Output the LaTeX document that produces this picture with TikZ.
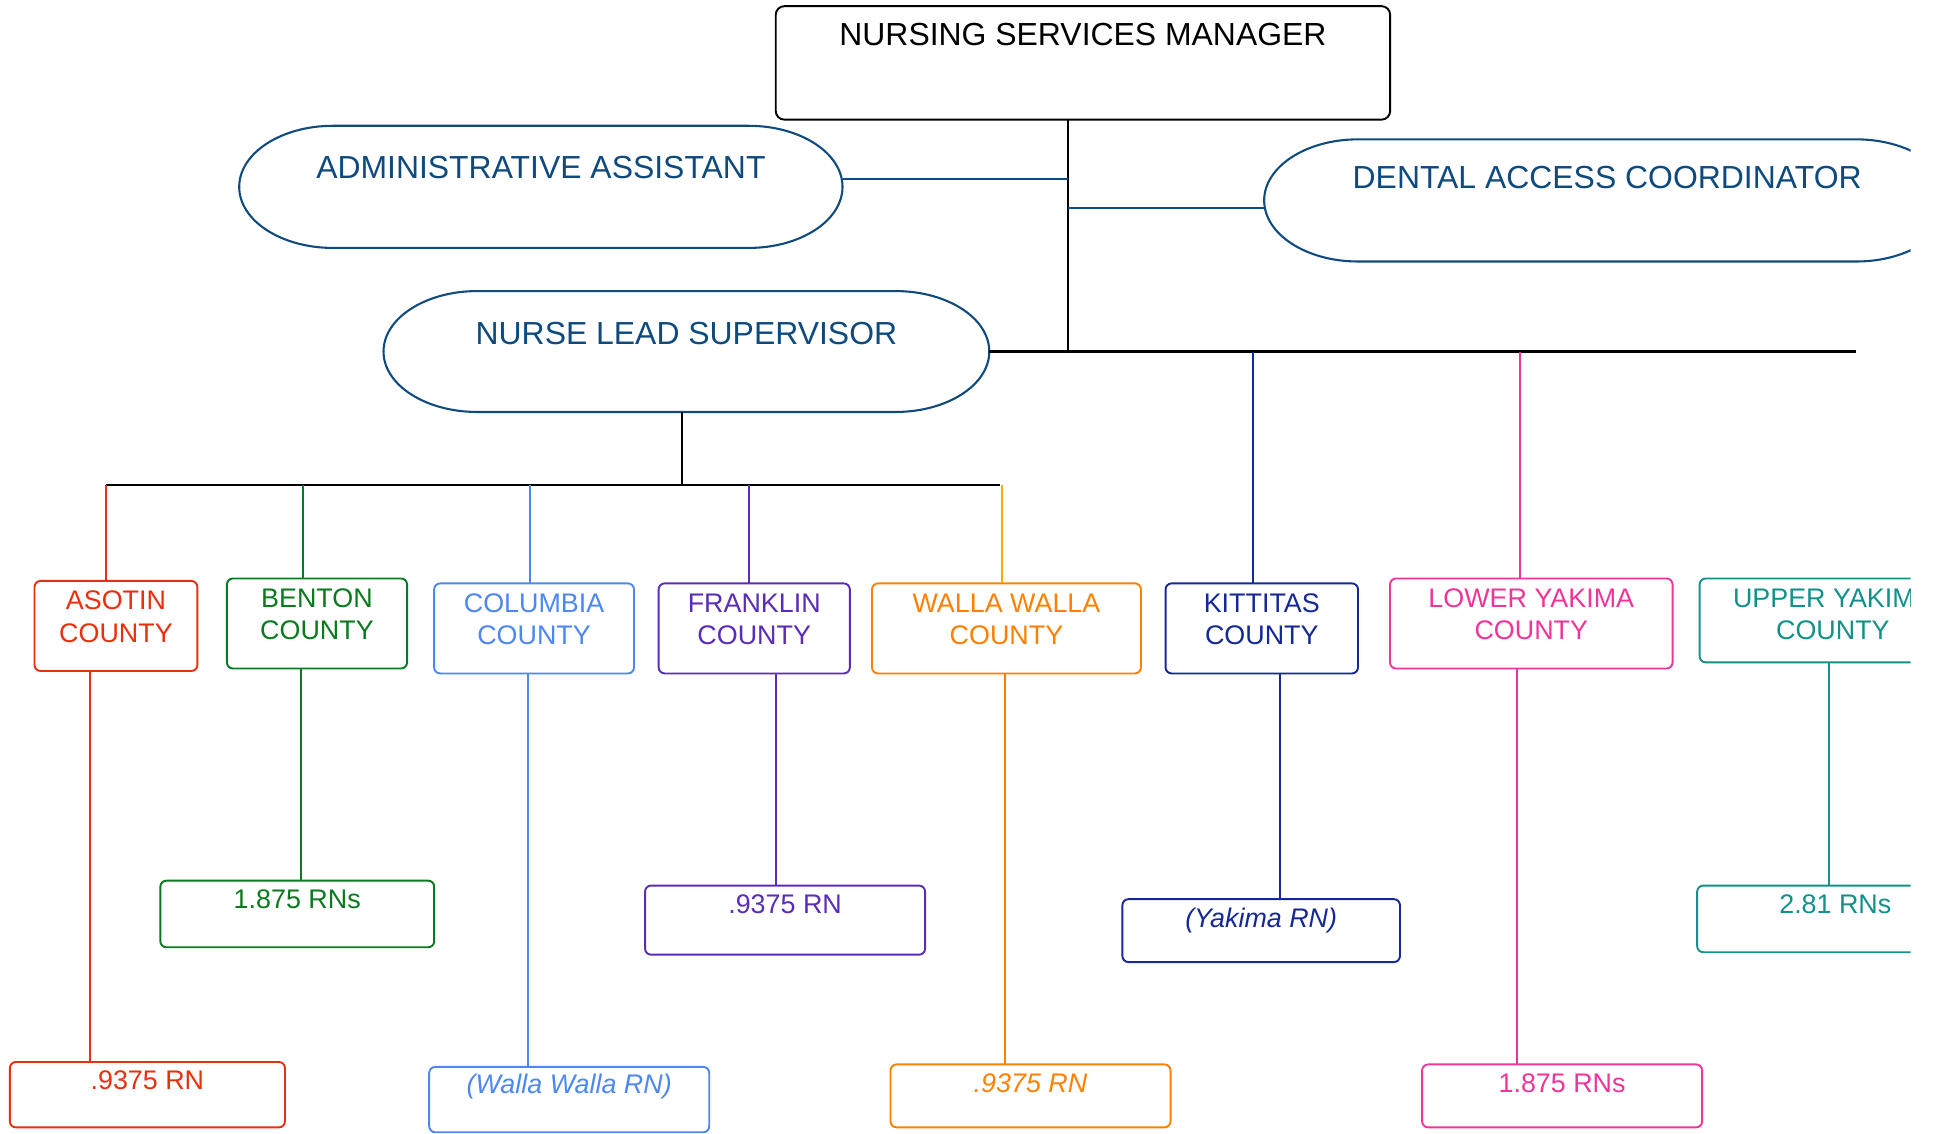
\documentclass[tikz,border=0pt]{standalone}
\usepackage{fontspec}
\setmainfont{Liberation Sans}
\definecolor{stadblue}{RGB}{14,74,126}
\definecolor{cred}{RGB}{232,48,14}
\definecolor{cgreen}{RGB}{11,122,30}
\definecolor{clblue}{RGB}{77,136,240}
\definecolor{cpurple}{RGB}{90,45,184}
\definecolor{corange}{RGB}{255,128,0}
\definecolor{cyellow}{RGB}{255,170,0}
\definecolor{cnavy}{RGB}{20,40,150}
\definecolor{cpink}{RGB}{240,53,154}
\definecolor{cteal}{RGB}{18,145,138}
\newcommand\drawstadium[2]{%
  \draw[stad] ([xshift=1.9cm]#1.north west) -- ([xshift=-1.9cm]#1.north east)
    arc[start angle=90,end angle=-90,x radius=1.9cm,y radius=#2]
    -- ([xshift=1.9cm]#1.south west)
    arc[start angle=270,end angle=90,x radius=1.9cm,y radius=#2] -- cycle;}
\begin{document}
\begin{tikzpicture}[x=0.025cm,y=-0.025cm,
  box/.style={draw=#1, rounded corners=3.5pt, line width=1.1pt, inner sep=0pt, outer sep=0pt},
  stadnode/.style={draw=none, inner sep=0pt, outer sep=0pt},
  stad/.style={draw=stadblue, line width=1.2pt},
  conn/.style={draw=#1, line width=1.2pt},
  blk/.style={draw=black, line width=1.4pt},
  lbl/.style={anchor=center, inner sep=0pt, align=center, font=\fontsize{15.5}{18.5}\selectfont},
  biglbl/.style={anchor=center, inner sep=0pt, align=center, font=\fontsize{18.4}{21}\selectfont}
]
\useasboundingbox (0,0) rectangle (1568,919);
\begin{scope}
\clip (0,0) rectangle (1549,919);

% top level
\node[box=black, rounded corners=5pt, minimum width=12.45cm, minimum height=2.3cm,
  label={[biglbl, text=black, yshift=-0.575cm]north:NURSING SERVICES MANAGER}] (mgr) at (878,51) {};

\node[stadnode, minimum width=12.225cm, minimum height=2.475cm,
  label={[biglbl, text=stadblue, yshift=-0.85cm]north:ADMINISTRATIVE ASSISTANT}] (admin) at (438.5,151.5) {};
\drawstadium{admin}{1.2375cm}
\node[stadnode, minimum width=13.9cm, minimum height=2.475cm,
  label={[biglbl, text=stadblue, yshift=-0.775cm]north:DENTAL ACCESS COORDINATOR}] (dental) at (1303,162.5) {};
\drawstadium{dental}{1.2375cm}
\node[stadnode, minimum width=12.275cm, minimum height=2.45cm,
  label={[biglbl, text=stadblue, yshift=-0.85cm]north:NURSE LEAD SUPERVISOR}] (nurse) at (556.5,285) {};
\drawstadium{nurse}{1.225cm}

% junction coordinates
\coordinate (j1) at (866,285);
\coordinate (hend) at (1505,285);
\coordinate (j2) at (553,393);
\coordinate (bl) at (86,393);
\coordinate (br) at (811,393);

% county boxes
\node[box=cred, minimum width=3.3cm, minimum height=1.825cm,
  label={[lbl, text=cred, yshift=-0.725cm]north:{ASOTIN\\COUNTY}}] (asotin) at (94,507.5) {};
\node[box=cgreen, minimum width=3.65cm, minimum height=1.825cm,
  label={[lbl, text=cgreen, yshift=-0.725cm]north:{BENTON\\COUNTY}}] (benton) at (257,505.5) {};
\node[box=clblue, minimum width=4.05cm, minimum height=1.825cm,
  label={[lbl, text=clblue, yshift=-0.725cm]north:{COLUMBIA\\COUNTY}}] (columbia) at (433,509.5) {};
\node[box=cpurple, minimum width=3.875cm, minimum height=1.825cm,
  label={[lbl, text=cpurple, yshift=-0.725cm]north:{FRANKLIN\\COUNTY}}] (franklin) at (611.5,509.5) {};
\node[box=corange, minimum width=5.45cm, minimum height=1.825cm,
  label={[lbl, text=corange, yshift=-0.725cm]north:{WALLA WALLA\\COUNTY}}] (walla) at (816,509.5) {};
\node[box=cnavy, minimum width=3.9cm, minimum height=1.825cm,
  label={[lbl, text=cnavy, yshift=-0.725cm]north:{KITTITAS\\COUNTY}}] (kittitas) at (1023,509.5) {};
\node[box=cpink, minimum width=5.725cm, minimum height=1.825cm,
  label={[lbl, text=cpink, yshift=-0.725cm]north:{LOWER YAKIMA\\COUNTY}}] (lower) at (1241.5,505.5) {};
\node[box=cteal, minimum width=5.4cm, minimum height=1.7cm,
  label={[lbl, text=cteal, yshift=-0.725cm]north:{UPPER YAKIMA\\COUNTY}}] (upper) at (1486,503) {};

% RN boxes
\node[box=cred, minimum width=5.575cm, minimum height=1.325cm,
  label={[lbl, text=cred, yshift=-0.375cm]north:.9375 RN}] (asotinRN) at (119.5,887.5) {};
\node[box=cgreen, minimum width=5.55cm, minimum height=1.35cm,
  label={[lbl, text=cgreen, yshift=-0.375cm]north:1.875 RNs}] (bentonRN) at (241,741) {};
\node[box=clblue, minimum width=5.675cm, minimum height=1.325cm,
  label={[lbl, text=clblue, yshift=-0.4cm]north:\itshape (Walla Walla RN)}] (columbiaRN) at (461.5,891.5) {};
\node[box=cpurple, minimum width=5.675cm, minimum height=1.4cm,
  label={[lbl, text=cpurple, yshift=-0.375cm]north:.9375 RN}] (franklinRN) at (636.5,746) {};
\node[box=corange, minimum width=5.675cm, minimum height=1.275cm,
  label={[lbl, text=corange, yshift=-0.375cm]north:\itshape .9375 RN}] (wallaRN) at (835.5,888.5) {};
\node[box=cnavy, minimum width=5.625cm, minimum height=1.275cm,
  label={[lbl, text=cnavy, yshift=-0.43cm]north:\itshape (Yakima RN)}] (kittitasRN) at (1022.5,754.5) {};
\node[box=cpink, minimum width=5.675cm, minimum height=1.275cm,
  label={[lbl, text=cpink, yshift=-0.375cm]north:1.875 RNs}] (lowerRN) at (1266.5,888.5) {};
\node[box=cteal, minimum width=5.6cm, minimum height=1.35cm,
  label={[lbl, text=cteal, yshift=-0.375cm]north:2.81 RNs}] (upperRN) at (1488,745) {};

% column coordinates
\coordinate (ua) at (86,0);   \coordinate (da) at (73,0);
\coordinate (ub) at (246,0);  \coordinate (db) at (244,0);
\coordinate (uc) at (430,0);  \coordinate (dc) at (428,0);
\coordinate (uf) at (607,0);  \coordinate (df) at (629,0);
\coordinate (uw) at (812,0);  \coordinate (dw) at (815,0);
\coordinate (uk) at (1016,0); \coordinate (dk) at (1038,0);
\coordinate (ul) at (1232,0); \coordinate (dl) at (1230,0);
\coordinate (du) at (1483,0);

% top connectors
\draw[blk, line width=1.2pt] (mgr.south -| j1) -- (j1);
\draw[conn=stadblue, line width=1.3pt] ([yshift=0.16cm]admin.east) -- ([yshift=0.16cm]admin.east -| j1);
\draw[conn=stadblue, line width=1.3pt] ([yshift=-0.16cm]dental.west) -- ([yshift=-0.16cm]dental.west -| j1);
\draw[blk] (nurse.east) -- (hend);
\draw[blk, line width=1.1pt] (nurse.south -| j2) -- (j2);
\draw[blk] (bl) -- (br);

% bar to counties
\draw[conn=cred] (bl) -- (asotin.north -| ua);
\draw[conn=cgreen] (bl -| ub) -- (benton.north -| ub);
\draw[conn=clblue] (bl -| uc) -- (columbia.north -| uc);
\draw[conn=cpurple] (bl -| uf) -- (franklin.north -| uf);
\draw[conn=cyellow] (br -| uw) -- (walla.north -| uw);
\draw[conn=cnavy] (j1 -| uk) -- (kittitas.north -| uk);
\draw[conn=cpink] (j1 -| ul) -- (lower.north -| ul);

% counties to RN boxes
\draw[conn=cred] (asotin.south -| da) -- (asotinRN.north -| da);
\draw[conn=cgreen] (benton.south -| db) -- (bentonRN.north -| db);
\draw[conn=clblue] (columbia.south -| dc) -- (columbiaRN.north -| dc);
\draw[conn=cpurple] (franklin.south -| df) -- (franklinRN.north -| df);
\draw[conn=corange] (walla.south -| dw) -- (wallaRN.north -| dw);
\draw[conn=cnavy] (kittitas.south -| dk) -- (kittitasRN.north -| dk);
\draw[conn=cpink] (lower.south -| dl) -- (lowerRN.north -| dl);
\draw[conn=cteal] (upper.south -| du) -- (upperRN.north -| du);
\end{scope}
\end{tikzpicture}
\end{document}
